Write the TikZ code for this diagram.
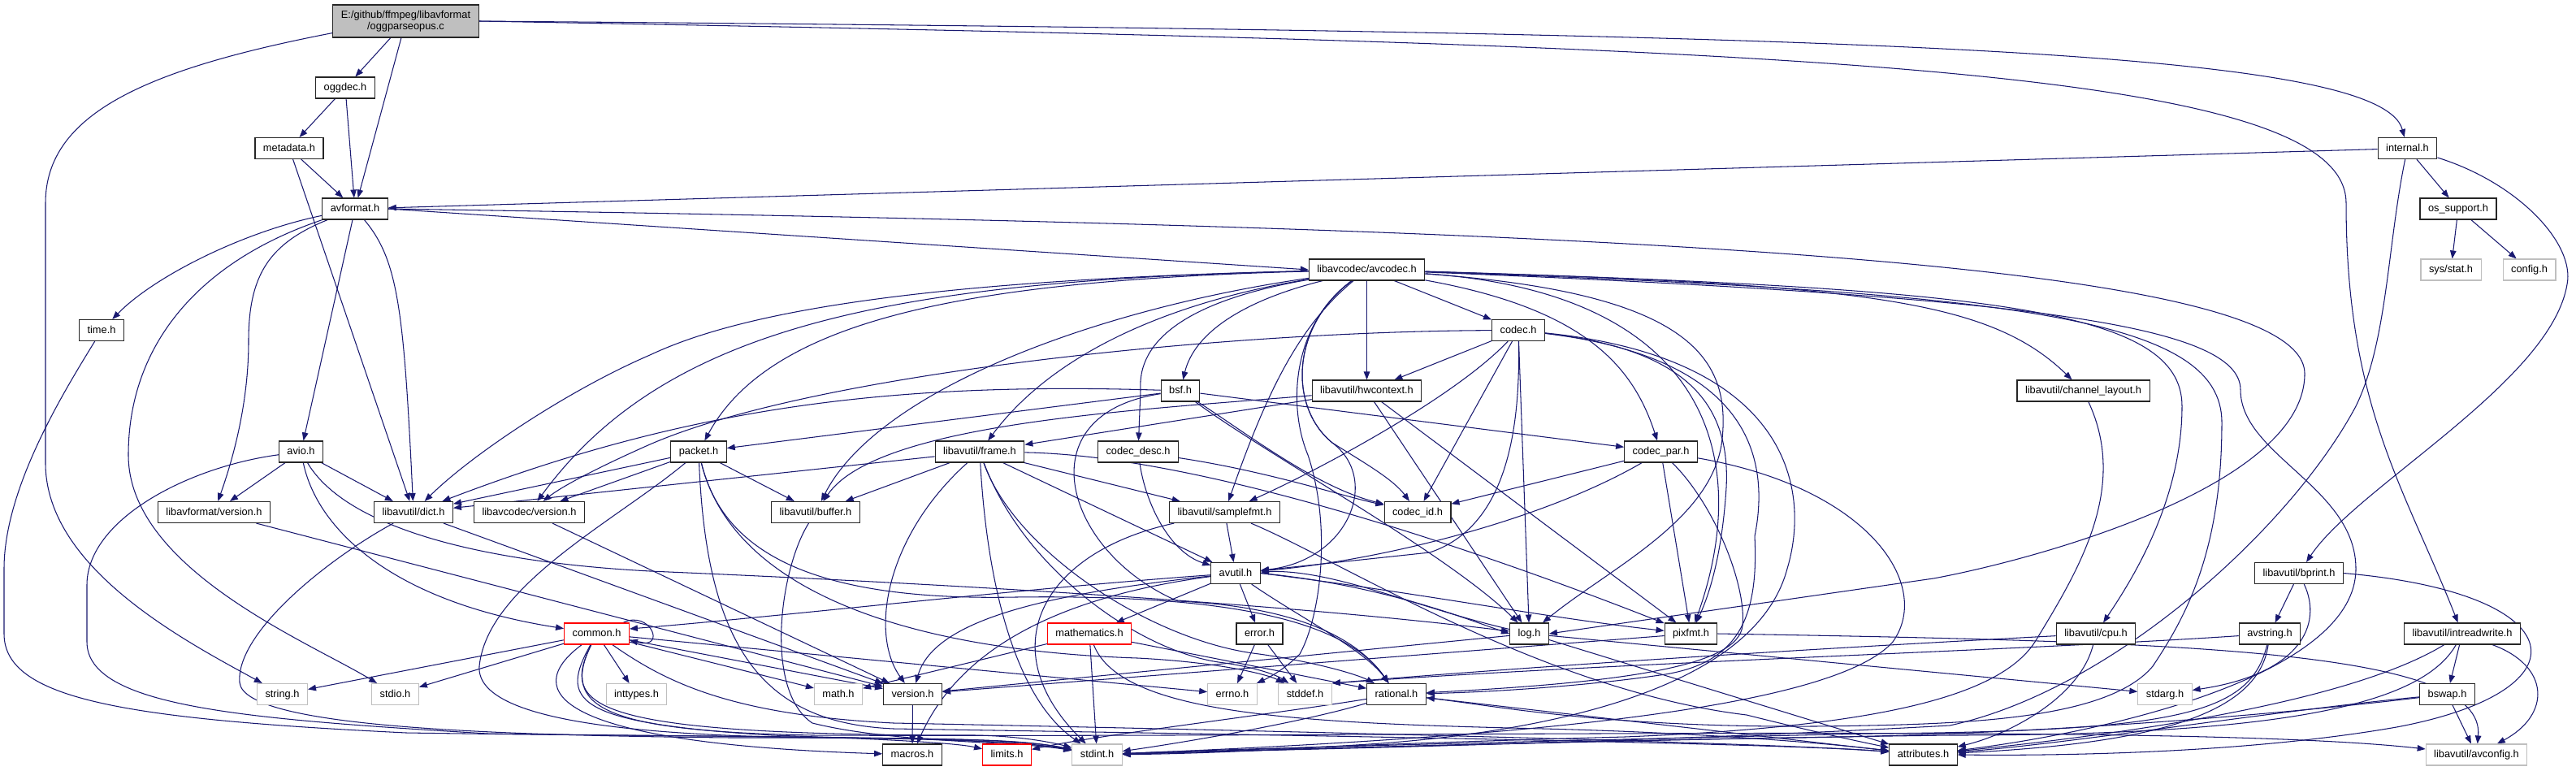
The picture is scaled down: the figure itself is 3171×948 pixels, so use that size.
\documentclass[tikz,border=0pt]{standalone}
\usepackage{fontspec}
\setmainfont{Liberation Sans}
\usepackage{xcolor}
\usetikzlibrary{arrows.meta}
\definecolor{linkblue}{HTML}{191970}
\definecolor{sysgray}{HTML}{BFBFBF}
\pgfdeclarelayer{bg}
\pgfdeclarelayer{edges}
\pgfsetlayers{bg,edges,main}
\newcommand{\fsz}{\fontsize{12.8}{14.5}\selectfont}

\begin{document}
\begin{tikzpicture}[
  x=1pt, y=-1pt,
  font=\fsz,
  file/.style={draw=black!85,line width=1.1pt,fill=white,minimum height=26pt,inner xsep=10pt,inner ysep=0pt,text height=9.6pt,text depth=2.6pt},
  sys/.style={file,draw=sysgray},
  trunc/.style={file,draw=red},
  focus/.style={draw=black!85,line width=1.1pt,fill=sysgray,align=center,minimum height=40pt,inner xsep=10pt},
  dep/.style={-{Triangle[length=10pt,width=7.5pt]},draw=linkblue,line width=1.05pt}
]
\useasboundingbox (0,0) rectangle (3171,948);
\begin{pgfonlayer}{bg}
\fill[white] (0,0) rectangle (3171,948);
\end{pgfonlayer}

% files, row by row
\node[focus] (top) at (499.5,26) {E:/github/ffmpeg/libavformat\\/oggparseopus.c};
\node[file] (oggdec) at (425,108) {oggdec.h};
\node[file] (metadata) at (356,182.5) {metadata.h};
\node[file] (internal) at (2963.5,182.5) {internal.h};
\node[file] (avformat) at (437,257) {avformat.h};
\node[file] (ossupport) at (3026,257) {os\_support.h};
\node[file] (avcodec) at (1682.5,332) {libavcodec/avcodec.h};
\node[sys] (sysstat) at (3017,332) {sys/stat.h};
\node[sys] (config) at (3113.5,332) {config.h};
\node[file] (time) at (125,406.5) {time.h};
\node[file] (codec) at (1869,406.5) {codec.h};
\node[file] (bsf) at (1453,481) {bsf.h};
\node[file] (hwcontext) at (1682.5,481) {libavutil/hwcontext.h};
\node[file] (chlayout) at (2564.5,481) {libavutil/channel\_layout.h};
\node[file] (avio) at (370.5,556) {avio.h};
\node[file] (packet) at (860,556) {packet.h};
\node[file] (frame) at (1206,556) {libavutil/frame.h};
\node[file] (codecdesc) at (1401,556) {codec\_desc.h};
\node[file] (codecpar) at (2044.5,556) {codec\_par.h};
\node[file] (lavfversion) at (263.5,630.5) {libavformat/version.h};
\node[file] (dict) at (509,630.5) {libavutil/dict.h};
\node[file] (lavcversion) at (651.5,630.5) {libavcodec/version.h};
\node[file] (buffer) at (1004,630.5) {libavutil/buffer.h};
\node[file] (samplefmt) at (1507.5,630.5) {libavutil/samplefmt.h};
\node[file] (codecid) at (1745,630.5) {codec\_id.h};
\node[file] (avutil) at (1521,705.5) {avutil.h};
\node[file] (bprint) at (2830,705.5) {libavutil/bprint.h};
\node[trunc] (common) at (734.5,780) {common.h};
\node[trunc] (mathematics) at (1341,780) {mathematics.h};
\node[file] (error) at (1550.5,780) {error.h};
\node[file] (log) at (1882.5,780) {log.h};
\node[file] (pixfmt) at (2081.5,780) {pixfmt.h};
\node[file] (cpu) at (2580,780) {libavutil/cpu.h};
\node[file] (avstring) at (2794,780) {avstring.h};
\node[file] (intreadwrite) at (3031,780) {libavutil/intreadwrite.h};
\node[sys] (string) at (347.5,854.5) {string.h};
\node[sys] (stdio) at (486.5,854.5) {stdio.h};
\node[sys] (inttypes) at (783.5,854.5) {inttypes.h};
\node[sys] (mathh) at (1032,854.5) {math.h};
\node[file] (version) at (1123.5,854.5) {version.h};
\node[sys] (errno) at (1517,854.5) {errno.h};
\node[sys] (stddef) at (1606.5,854.5) {stddef.h};
\node[file] (rational) at (1719,854.5) {rational.h};
\node[sys] (stdarg) at (2665,854.5) {stdarg.h};
\node[file] (bswap) at (3012.5,854.5) {bswap.h};
\node[file] (macros) at (1123,929) {macros.h};
\node[trunc] (limits) at (1239.5,929) {limits.h};
\node[sys] (stdint) at (1350.5,929) {stdint.h};
\node[file] (attributes) at (2367.5,929) {attributes.h};
\node[sys] (avconfig) at (3048.5,929) {libavutil/avconfig.h};

\begin{pgfonlayer}{edges}
% oggparseopus.c
\draw[dep] (top) -- (oggdec);
\draw[dep] (top) -- (avformat);
\draw[dep] ([yshift=6pt]top.south west) .. controls (180,85) and (56,140) .. (56,250) -- (56,570) .. controls (56,700) and (230,790) .. (string);
\draw[dep] (top.east) .. controls (2300,40) and (2930,60) .. (internal);
\draw[dep] (top.east) .. controls (2200,55) and (2888,80) .. (2888,250) .. controls (2888,500) and (2960,600) .. (intreadwrite);
% oggdec.h, metadata.h
\draw[dep] (oggdec) -- (metadata);
\draw[dep] (oggdec) -- (avformat);
\draw[dep] (metadata) -- (avformat);
\draw[dep] (metadata) -- (dict);
% avformat.h
\draw[dep] (avformat) .. controls (300,285) and (190,340) .. (time);
\draw[dep] (avformat) .. controls (250,320) and (158,420) .. (158,560) .. controls (158,700) and (380,790) .. (stdio);
\draw[dep] (avformat) .. controls (330,300) and (306,340) .. (306,420) .. controls (306,500) and (285,570) .. (lavfversion);
\draw[dep] (avformat) -- (avio);
\draw[dep] (avformat) .. controls (490,320) and (497,380) .. (dict);
\draw[dep] (avformat.east) -- (avcodec.west);
\draw[dep] (avformat.east) .. controls (2000,280) and (2837,320) .. (2837,460) .. controls (2837,600) and (2500,690) .. (2380,712) -- (log.east);
% internal.h, os_support.h
\draw[dep] (internal) -- (avformat);
\draw[dep] (internal) -- (ossupport);
\draw[dep] (internal) .. controls (2939,300) and (2939,420) .. (2900,500) .. controls (2820,650) and (2600,850) .. (2400,893) .. controls (2000,915) and (1600,922) .. (stdint);
\draw[dep] (internal) .. controls (3100,225) and (3170,300) .. (3160,350) .. controls (3140,470) and (2900,600) .. (bprint);
\draw[dep] (ossupport) -- (sysstat);
\draw[dep] (ossupport) -- (config);
% time.h, avio.h
\draw[dep] (time) .. controls (80,480) and (5,600) .. (5,700) -- (5,780) .. controls (5,860) and (150,885) .. (500,902) .. controls (900,908) and (1220,905) .. (stdint);
\draw[dep] (avio) -- (lavfversion);
\draw[dep] (avio) -- (dict);
\draw[dep] (avio) .. controls (230,575) and (107,640) .. (107,720) -- (107,790) .. controls (107,870) and (300,885) .. (600,903) .. controls (950,908) and (1220,905) .. (stdint);
\draw[dep] (avio) .. controls (390,650) and (480,740) .. (common);
\draw[dep] (avio) .. controls (420,640) and (560,690) .. (800,703) .. controls (1200,720) and (1600,745) .. (log);
% libavcodec/avcodec.h
\draw[dep] (avcodec) -- (hwcontext);
\draw[dep] (avcodec) -- (codec);
\draw[dep] (avcodec) .. controls (1530,370) and (1470,410) .. (bsf);
\draw[dep] (avcodec) .. controls (1100,345) and (900,390) .. (800,437) .. controls (700,480) and (580,560) .. (dict);
\draw[dep] (avcodec) .. controls (1100,345) and (820,400) .. (lavcversion);
\draw[dep] (avcodec) .. controls (1200,345) and (950,390) .. (packet);
\draw[dep] (avcodec) .. controls (1350,380) and (1080,480) .. (buffer);
\draw[dep] (avcodec) .. controls (1450,370) and (1300,430) .. (frame);
\draw[dep] (avcodec) .. controls (1460,370) and (1400,420) .. (1404,480) -- (codecdesc);
\draw[dep] (avcodec) .. controls (1600,400) and (1560,480) .. (samplefmt);
\draw[dep] (avcodec) .. controls (1590,400) and (1585,500) .. (1640,545) .. controls (1680,570) and (1715,590) .. (codecid);
\draw[dep] (avcodec) .. controls (1590,400) and (1585,500) .. (1640,545) .. controls (1700,590) and (1660,690) .. (avutil);
\draw[dep] (avcodec) .. controls (1590,400) and (1585,500) .. (1610,560) .. controls (1640,650) and (1625,760) .. (1600,805) .. controls (1580,825) and (1560,835) .. (errno);
\draw[dep] (avcodec) .. controls (1950,380) and (2010,450) .. (codecpar);
\draw[dep] (avcodec) .. controls (2080,360) and (2130,440) .. (2120,540) .. controls (2110,640) and (1980,700) .. (log);
\draw[dep] (avcodec) .. controls (2100,360) and (2160,560) .. (pixfmt);
\draw[dep] (avcodec) .. controls (2300,350) and (2450,370) .. (chlayout);
\draw[dep] (avcodec) .. controls (2450,355) and (2686,380) .. (2686,500) .. controls (2686,620) and (2620,720) .. (cpu);
\draw[dep] (avcodec) .. controls (2480,360) and (2735,390) .. (2735,520) .. controls (2735,680) and (2690,760) .. (2650,820) .. controls (2600,880) and (2450,890) .. (2300,893) .. controls (2000,900) and (1850,870) .. (rational);
\draw[dep] (avcodec) .. controls (2500,365) and (2758,400) .. (2758,480) .. controls (2758,560) and (2900,600) .. (2900,700) .. controls (2900,830) and (2600,900) .. (attributes);
% codec.h
\draw[dep] (codec) -- (hwcontext);
\draw[dep] (codec) .. controls (1500,408) and (1000,460) .. (800,547) .. controls (730,578) and (690,600) .. (lavcversion);
\draw[dep] (codec) -- (codecid);
\draw[dep] (codec) -- (log);
\draw[dep] (codec) .. controls (1790,490) and (1620,580) .. (samplefmt);
\draw[dep] (codec) .. controls (1872,540) and (1850,650) .. (1760,680) -- (avutil);
\draw[dep] (codec) .. controls (2080,430) and (2130,500) .. (2125,600) .. controls (2120,680) and (2105,730) .. (pixfmt);
\draw[dep] (codec) .. controls (2150,440) and (2180,560) .. (2160,660) .. controls (2165,760) and (2140,815) .. (2050,830) .. controls (1950,845) and (1830,852) .. (rational);
\draw[dep] (codec) .. controls (2200,440) and (2230,600) .. (2200,700) .. controls (2160,850) and (1900,900) .. (1700,915) .. controls (1550,925) and (1450,928) .. (stdint);
% libavutil/hwcontext.h, bsf.h
\draw[dep] (hwcontext) .. controls (1400,505) and (1080,520) .. (buffer);
\draw[dep] (hwcontext) -- (frame);
\draw[dep] (hwcontext) -- (log);
\draw[dep] (hwcontext) -- (pixfmt);
\draw[dep] (bsf) -- (packet);
\draw[dep] (bsf) .. controls (1100,470) and (850,500) .. (dict);
\draw[dep] (bsf) .. controls (1530,530) and (1620,600) .. (codecid);
\draw[dep] (bsf) -- (codecpar);
\draw[dep] (bsf) .. controls (1560,560) and (1780,680) .. (log);
\draw[dep] (bsf) .. controls (1260,510) and (1310,680) .. (1450,740) .. controls (1560,745) and (1660,770) .. (rational);
% codec_desc.h, codec_par.h
\draw[dep] (codecdesc) .. controls (1410,620) and (1440,680) .. (avutil);
\draw[dep] (codecdesc) .. controls (1560,580) and (1650,610) .. (codecid);
\draw[dep] (codecpar) -- (codecid);
\draw[dep] (codecpar) .. controls (1900,640) and (1700,690) .. (avutil);
\draw[dep] (codecpar) -- (pixfmt);
\draw[dep] (codecpar) .. controls (2110,620) and (2150,720) .. (2145,770) .. controls (2140,820) and (2000,840) .. (rational);
\draw[dep] (codecpar) .. controls (2300,600) and (2380,720) .. (2330,790) .. controls (2250,880) and (1800,910) .. (stdint);
% packet.h
\draw[dep] (packet) -- (buffer);
\draw[dep] (packet) -- (dict);
\draw[dep] (packet) -- (lavcversion);
\draw[dep] (packet) .. controls (760,640) and (600,720) .. (590,820) .. controls (585,890) and (800,905) .. (1000,908) .. controls (1150,910) and (1250,908) .. (stdint);
\draw[dep] (packet) .. controls (890,680) and (1000,740) .. (1250,735) .. controls (1480,732) and (1650,755) .. (rational);
\draw[dep] (packet) .. controls (900,720) and (1100,800) .. (1400,810) .. controls (1500,815) and (1560,830) .. (stddef);
\draw[dep] (packet) .. controls (870,800) and (940,890) .. (1100,897) .. controls (1600,905) and (2200,915) .. (attributes);
% libavutil/frame.h
\draw[dep] (frame) -- (buffer);
\draw[dep] (frame) -- (dict);
\draw[dep] (frame) -- (avutil);
\draw[dep] (frame) -- (samplefmt);
\draw[dep] (frame) .. controls (1090,660) and (1070,780) .. (version);
\draw[dep] (frame) .. controls (1215,720) and (1250,860) .. (stdint);
\draw[dep] (frame) .. controls (1250,680) and (1420,790) .. (1550,805) .. controls (1620,815) and (1670,830) .. (rational);
\draw[dep] (frame) .. controls (1260,700) and (1400,800) .. (1500,815) .. controls (1540,820) and (1570,830) .. (stddef);
\draw[dep] (frame) .. controls (1450,560) and (1750,650) .. (pixfmt);
% libavutil/samplefmt.h, avutil.h
\draw[dep] (samplefmt) -- (avutil);
\draw[dep] (samplefmt) .. controls (1280,680) and (1220,800) .. (stdint);
\draw[dep] (samplefmt) .. controls (1650,690) and (1900,850) .. (2150,880) .. controls (2250,905) and (2300,915) .. (attributes);
\draw[dep] (avutil) .. controls (1250,725) and (950,760) .. ([yshift=6pt]common.east);
\draw[dep] (avutil) -- (mathematics);
\draw[dep] (avutil) -- (error);
\draw[dep] (avutil) .. controls (1300,730) and (1150,760) .. (version);
\draw[dep] (avutil) .. controls (1300,735) and (1180,800) .. (macros);
\draw[dep] (avutil) .. controls (1600,760) and (1680,800) .. (rational);
\draw[dep] (avutil.east) .. controls (1700,720) and (1800,760) .. (log.west);
\draw[dep] (log) .. controls (1750,750) and (1640,700) .. (avutil);
\draw[dep] (avutil.east) .. controls (1750,730) and (1900,760) .. (pixfmt);
% mathematics.h, error.h, log.h, pixfmt.h
\draw[dep] (mathematics) -- (mathh);
\draw[dep] (mathematics) -- (rational);
\draw[dep] (mathematics) -- (stdint);
\draw[dep] (mathematics) .. controls (1380,880) and (1600,890) .. (1900,897) .. controls (2100,902) and (2250,915) .. (attributes);
\draw[dep] (error) -- (errno);
\draw[dep] (error) -- (stddef);
\draw[dep] (log) -- (stdarg);
\draw[dep] (log) -- (version);
\draw[dep] (log) -- (attributes);
\draw[dep] (pixfmt.east) .. controls (2700,790) and (3060,800) .. (avconfig);
\draw[dep] (pixfmt) -- (version);
% rational.h, version.h, dict.h
\draw[dep] (rational) -- (attributes);
\draw[dep] (rational) .. controls (1600,890) and (1450,915) .. (stdint);
\draw[dep] (rational) .. controls (1560,880) and (1350,905) .. (limits);
\draw[dep] (version) -- (macros);
\draw[dep] (dict) -- (version);
\draw[dep] (dict) .. controls (400,690) and (290,780) .. (295,840) .. controls (300,895) and (600,905) .. (900,908) .. controls (1100,908) and (1250,908) .. (stdint);
\draw[dep] (lavfversion) -- (version);
\draw[dep] (lavcversion) -- (version);
\draw[dep] (buffer) .. controls (960,700) and (940,850) .. (1000,890) .. controls (1100,915) and (1250,912) .. (stdint);
% common.h
\draw[dep] (common) -- (string);
\draw[dep] (common) -- (stdio);
\draw[dep] (common) -- (inttypes);
\draw[dep] (common) -- (mathh);
\draw[dep] (common) -- (version);
\draw[dep] (common) -- (errno);
\draw[dep] (common) .. controls (690,860) and (700,890) .. (950,905) .. controls (1100,910) and (1180,915) .. (limits);
\draw[dep] (common) .. controls (640,850) and (680,915) .. (macros);
\draw[dep] (common) .. controls (690,870) and (720,905) .. (1200,905) .. controls (1260,906) and (1300,915) .. (stdint);
\draw[dep] (common) .. controls (820,840) and (900,880) .. (1100,890) .. controls (1600,900) and (2200,915) .. (attributes);
\draw[dep] (common) .. controls (690,870) and (740,900) .. (1000,905) .. controls (1800,908) and (2700,890) .. (avconfig);
\draw[dep] ([xshift=-8pt]common.north east) .. controls (800,750) and (822,800) .. ([yshift=-8pt]common.east);
% bprint, avstring, cpu, channel_layout, intreadwrite, bswap
\draw[dep] (bprint) -- (avstring);
\draw[dep] (bprint) .. controls (2860,770) and (2830,830) .. (stdarg);
\draw[dep] (bprint.east) .. controls (3170,730) and (3190,850) .. (2950,895) .. controls (2750,930) and (2500,930) .. (attributes.east);
\draw[dep] (avstring) .. controls (2500,800) and (2000,815) .. (stddef.north east);
\draw[dep] (avstring) .. controls (2770,880) and (2680,900) .. (2300,903) .. controls (1900,912) and (1500,922) .. (stdint);
\draw[dep] (avstring) .. controls (2780,880) and (2650,915) .. (attributes);
\draw[dep] (cpu) .. controls (2300,795) and (1950,815) .. (stddef.north east);
\draw[dep] (cpu) .. controls (2560,860) and (2470,905) .. (attributes);
\draw[dep] (chlayout) .. controls (2620,600) and (2560,700) .. (2505,790) .. controls (2460,860) and (2300,895) .. (2000,907) .. controls (1700,915) and (1500,925) .. (stdint);
\draw[dep] (intreadwrite) -- (bswap);
\draw[dep] (intreadwrite) .. controls (3140,820) and (3140,880) .. (avconfig);
\draw[dep] (intreadwrite) .. controls (2900,860) and (2650,900) .. (attributes);
\draw[dep] (intreadwrite) .. controls (2980,870) and (2800,905) .. (2400,905) .. controls (2000,910) and (1500,925) .. (stdint);
\draw[dep] (bswap) -- (avconfig);
\draw[dep] (bswap) .. controls (2800,875) and (2550,915) .. (attributes);
\draw[dep] (bswap) .. controls (2800,880) and (2500,905) .. (2200,908) .. controls (1800,915) and (1500,925) .. (stdint);
\end{pgfonlayer}
\end{tikzpicture}
\end{document}
